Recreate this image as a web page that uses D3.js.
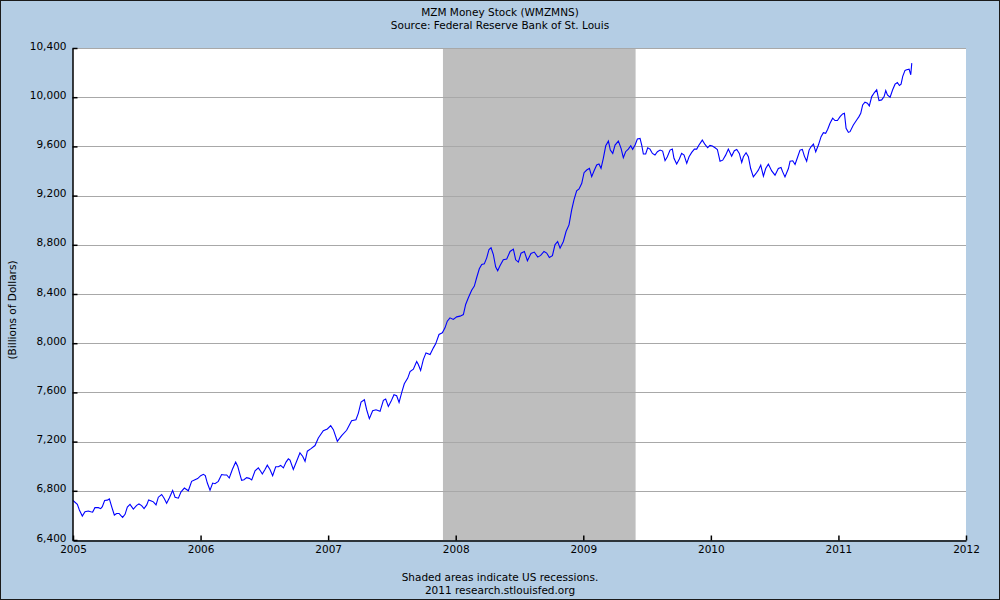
<!DOCTYPE html>
<html><head><meta charset="utf-8">
<script src="https://cdn.jsdelivr.net/npm/d3@7"></script>
<style>
html,body{margin:0;padding:0;background:#fff;}
svg{display:block;}
text{font-family:"DejaVu Sans",Verdana,sans-serif;fill:#000;}
</style></head>
<body>
<svg id="chart" width="1000" height="600"></svg>
<script>
const titleLines = ["MZM Money Stock (WMZMNS)", "Source: Federal Reserve Bank of St. Louis"];
const footerLines = ["Shaded areas indicate US recessions.", "2011 research.stlouisfed.org"];
const yAxisLabel = "(Billions of Dollars)";
const yTicks = [6400, 6800, 7200, 7600, 8000, 8400, 8800, 9200, 9600, 10000, 10400];
const xTicks = [2005, 2006, 2007, 2008, 2009, 2010, 2011, 2012];
const recession = [2007.90, 2009.41];

const years = [
2005.000,2005.034,2005.050,2005.073,2005.094,2005.120,2005.139,2005.154,2005.172,2005.199,2005.217,2005.230,2005.248,2005.269,2005.285,2005.303,2005.324,2005.342,2005.361,2005.374,2005.389,2005.408,2005.426,2005.447,2005.473,2005.499,2005.517,2005.538,2005.557,2005.578,2005.593,2005.614,2005.630,2005.651,2005.669,2005.695,2005.713,2005.734,2005.755,2005.781,2005.800,2005.826,2005.847,2005.873,2005.904,2005.930,2005.956,2005.977,
2006.001,2006.022,2006.037,2006.053,2006.074,2006.095,2006.113,2006.139,2006.165,2006.186,2006.205,2006.225,2006.249,2006.275,2006.291,2006.309,2006.322,2006.340,2006.361,2006.382,2006.401,2006.427,2006.453,2006.471,2006.484,2006.505,2006.523,2006.544,2006.565,2006.589,2006.610,2006.628,2006.649,2006.670,2006.688,2006.701,2006.727,2006.753,2006.779,2006.800,2006.819,2006.837,2006.863,2006.897,2006.923,2006.962,2006.994,
2007.020,2007.041,2007.072,2007.106,2007.145,2007.184,2007.218,2007.237,2007.258,2007.284,2007.302,2007.323,2007.349,2007.375,2007.407,2007.433,2007.451,2007.472,2007.493,2007.516,2007.537,2007.556,2007.577,2007.597,2007.624,2007.642,2007.668,2007.694,2007.707,2007.725,2007.746,2007.767,2007.799,2007.825,2007.843,2007.869,2007.895,2007.916,2007.934,2007.955,2007.981,
2008.008,2008.034,2008.060,2008.078,2008.099,2008.125,2008.146,2008.164,2008.185,2008.204,2008.224,2008.243,2008.261,2008.277,2008.295,2008.313,2008.329,2008.347,2008.373,2008.400,2008.426,2008.452,2008.470,2008.491,2008.512,2008.538,2008.562,2008.590,2008.616,2008.643,2008.666,2008.692,2008.713,2008.734,2008.758,2008.778,2008.799,2008.818,2008.844,2008.865,2008.888,2008.909,2008.927,2008.948,2008.967,2008.988,
2009.006,2009.027,2009.048,2009.066,2009.084,2009.105,2009.123,2009.139,2009.157,2009.176,2009.197,2009.212,2009.231,2009.249,2009.275,2009.296,2009.314,2009.332,2009.353,2009.372,2009.387,2009.406,2009.424,2009.445,2009.458,2009.471,2009.489,2009.505,2009.523,2009.542,2009.562,2009.581,2009.602,2009.622,2009.641,2009.659,2009.680,2009.698,2009.711,2009.732,2009.753,2009.771,2009.790,2009.811,2009.829,2009.850,2009.871,2009.889,2009.907,2009.933,2009.954,2009.975,2009.993,
2010.012,2010.033,2010.051,2010.072,2010.093,2010.116,2010.137,2010.163,2010.184,2010.203,2010.223,2010.242,2010.255,2010.276,2010.294,2010.312,2010.333,2010.354,2010.372,2010.391,2010.412,2010.430,2010.451,2010.477,2010.503,2010.529,2010.550,2010.563,2010.581,2010.608,2010.621,2010.642,2010.660,2010.681,2010.699,2010.717,2010.733,2010.751,2010.770,2010.785,2010.804,2010.822,2010.843,2010.864,2010.882,2010.900,2010.916,2010.934,2010.955,2010.973,2010.992,
2011.013,2011.033,2011.047,2011.060,2011.078,2011.091,2011.117,2011.143,2011.161,2011.175,2011.190,2011.208,2011.227,2011.242,2011.261,2011.282,2011.300,2011.318,2011.339,2011.358,2011.371,2011.384,2011.405,2011.425,2011.444,2011.462,2011.478,2011.491,2011.504,2011.522,2011.535,2011.554,2011.567,2011.575
];
const values = [
6721,6690,6644,6595,6630,6636,6630,6627,6663,6663,6655,6671,6721,6724,6734,6671,6603,6616,6616,6600,6584,6609,6668,6690,6652,6682,6693,6680,6655,6685,6726,6718,6710,6685,6748,6770,6742,6699,6742,6803,6748,6740,6792,6822,6800,6877,6890,6899,
6923,6934,6923,6863,6805,6863,6858,6877,6932,6929,6929,6904,6973,7033,7000,6932,6885,6890,6907,6901,6888,6962,6986,6959,6937,6973,7008,6973,6923,6995,6995,7006,6986,7033,7060,7049,6973,7040,7108,7081,7040,7122,7141,7168,7230,7289,7303,
7330,7297,7203,7249,7292,7370,7378,7432,7521,7540,7459,7386,7451,7459,7446,7535,7546,7486,7527,7581,7573,7519,7600,7670,7716,7770,7789,7851,7827,7778,7867,7921,7908,7962,7995,8071,8084,8125,8179,8206,8193,
8214,8220,8233,8315,8369,8431,8464,8532,8605,8640,8645,8694,8762,8776,8721,8621,8589,8630,8678,8684,8746,8765,8678,8659,8732,8746,8670,8730,8741,8700,8714,8746,8733,8697,8711,8800,8827,8773,8827,8908,8962,9084,9165,9238,9254,9300,
9386,9408,9422,9354,9400,9449,9457,9422,9503,9605,9643,9570,9543,9611,9643,9584,9508,9557,9578,9605,9576,9611,9660,9665,9611,9538,9538,9589,9578,9543,9530,9557,9570,9562,9484,9516,9570,9578,9503,9457,9497,9543,9530,9462,9516,9551,9578,9578,9611,9651,9616,9589,9608,
9603,9589,9575,9480,9488,9529,9578,9521,9565,9575,9543,9469,9516,9548,9516,9420,9352,9380,9407,9448,9358,9420,9456,9401,9366,9420,9429,9393,9352,9420,9480,9483,9453,9516,9570,9576,9521,9480,9570,9597,9619,9556,9611,9679,9712,9706,9739,9788,9829,9810,9810,9842,
9864,9869,9747,9714,9720,9774,9815,9842,9869,9937,9959,9951,9929,10005,10038,10060,9973,9978,10005,10054,10019,10000,10060,10106,10120,10095,10106,10169,10218,10223,10228,10182,10277,10318
];

const W = 1000, H = 600;
const plot = {left: 73, right: 966, top: 48, bottom: 540};
const svg = d3.select("#chart");

svg.append("rect").attr("x",0.5).attr("y",0.5).attr("width",W-1).attr("height",H-1)
  .attr("fill","#b4cde4").attr("stroke","#1a1a1a").attr("stroke-width",1);

const x = d3.scaleLinear().domain([xTicks[0], xTicks[xTicks.length-1]]).range([plot.left, plot.right]);
const y = d3.scaleLinear().domain([yTicks[0], yTicks[yTicks.length-1]]).range([plot.bottom, plot.top]);

svg.append("rect").attr("x",plot.left).attr("y",plot.top)
  .attr("width",plot.right-plot.left).attr("height",plot.bottom-plot.top).attr("fill","#fff");

svg.append("rect").attr("x",x(recession[0])).attr("y",plot.top)
  .attr("width",x(recession[1])-x(recession[0])).attr("height",plot.bottom-plot.top)
  .attr("fill","#bebebe");

// gridlines
svg.append("g").selectAll("line").data(yTicks.slice(1)).join("line")
  .attr("x1",plot.left).attr("x2",plot.right)
  .attr("y1",d=>Math.round(y(d))+0.5).attr("y2",d=>Math.round(y(d))+0.5)
  .attr("stroke","#a8a8a8").attr("stroke-width",1);

// line
const pts = years.map((t,i)=>[t, values[i]]);
svg.append("path").datum(pts)
  .attr("fill","none").attr("stroke","#0000ff").attr("stroke-width",1.1)
  .attr("d", d3.line().x(d=>x(d[0])).y(d=>y(d[1])));

// axes
const fmt = d3.format(",");
const yAxis = d3.axisLeft(y).tickValues(yTicks).tickFormat(d=>fmt(d)).tickSizeInner(-5).tickSizeOuter(0).tickPadding(6);
const gy = svg.append("g").attr("transform",`translate(${plot.left-0.5},0)`).call(yAxis);
const xAxis = d3.axisBottom(x).tickValues(xTicks).tickFormat(d3.format("d")).tickSizeInner(-5).tickSizeOuter(0).tickPadding(4);
const gx = svg.append("g").attr("transform",`translate(0,${plot.bottom+0.5})`).call(xAxis);
[gx, gy].forEach(g=>{
  g.select(".domain").attr("stroke","#000").attr("stroke-width",1.5);
  g.selectAll(".tick line").attr("stroke","#000").attr("stroke-width",1.5);
  g.selectAll("text").attr("font-family","DejaVu Sans, Verdana, sans-serif").attr("font-size",10.5).attr("fill","#000");
});
gy.selectAll(".tick text").attr("dy","0.1em");
gx.selectAll(".tick text").attr("dy","0.85em");

svg.append("g").selectAll("text").data(titleLines).join("text")
  .attr("x",500).attr("y",(d,i)=>16+i*13).attr("text-anchor","middle")
  .attr("font-size",10.5).text(d=>d);

svg.append("g").selectAll("text").data(footerLines).join("text")
  .attr("x",500).attr("y",(d,i)=>581+i*13).attr("text-anchor","middle")
  .attr("font-size",10.5).text(d=>d);

svg.append("text").attr("transform","translate(16,310) rotate(-90)")
  .attr("text-anchor","middle").attr("font-size",10.5).text(yAxisLabel);
</script>
</body></html>
